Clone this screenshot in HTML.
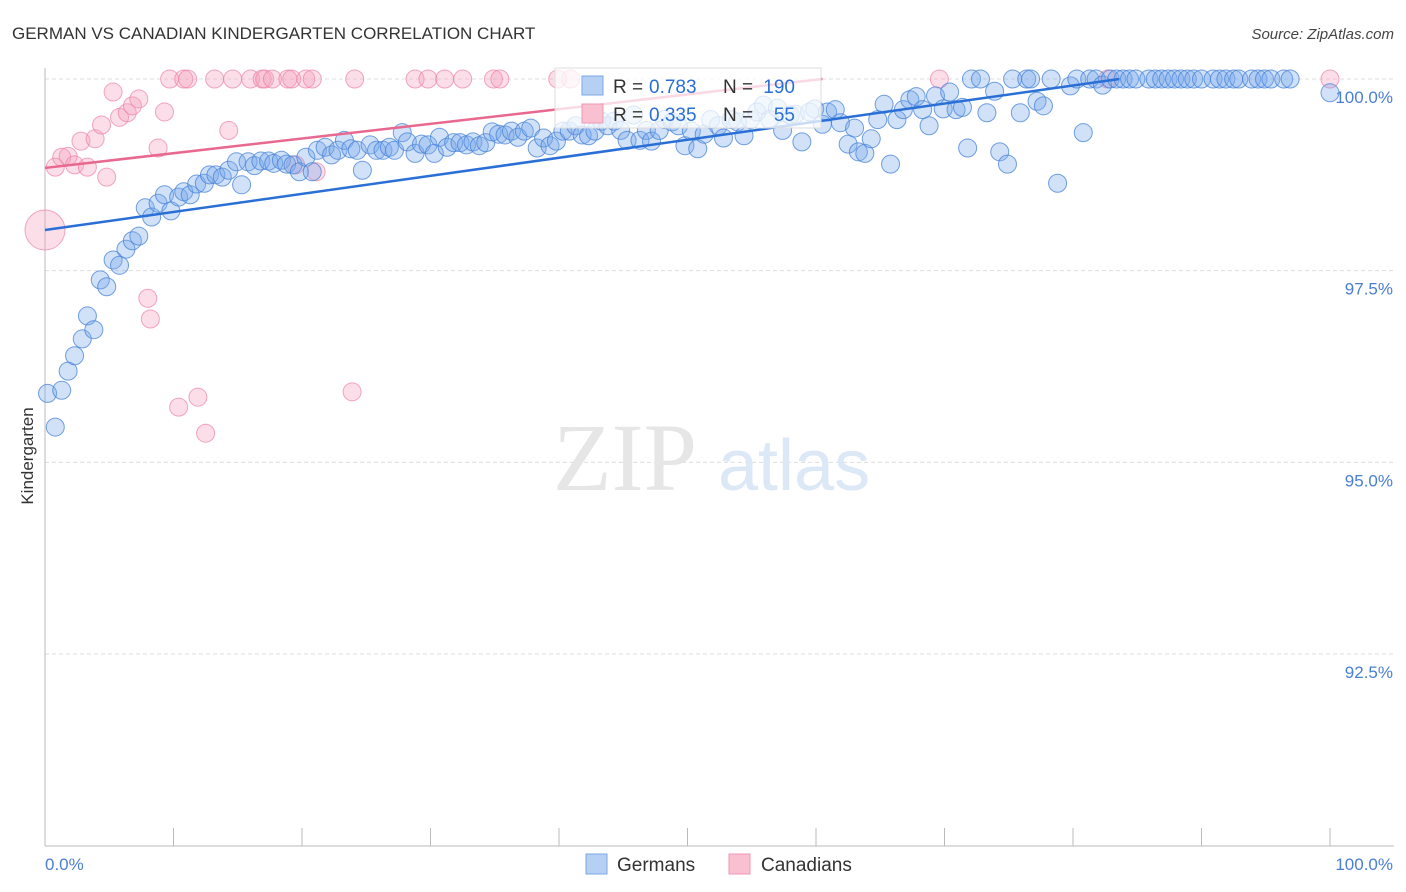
<!DOCTYPE html>
<html><head><meta charset="utf-8">
<style>
body{margin:0;background:#fff;font-family:"Liberation Sans",sans-serif;}
#wrap{position:relative;width:1406px;height:892px;overflow:hidden;}
</style></head>
<body>
<div id="wrap">
<svg id="chart" width="1406" height="892" xmlns="http://www.w3.org/2000/svg"></svg>
</div>
<script>
const blueX=[0.2,0.8,1.3,1.8,2.3,2.9,3.3,3.8,4.3,4.8,5.3,5.8,6.3,6.8,7.3,7.8,8.3,8.8,9.3,9.8,10.4,10.8,11.3,11.8,12.4,12.8,13.3,13.8,14.3,14.9,15.3,15.8,16.3,16.8,17.4,17.8,18.4,18.8,19.3,19.8,20.3,20.8,21.2,21.8,22.3,22.8,23.3,23.8,24.3,24.7,25.3,25.8,26.3,26.8,27.2,27.8,28.2,28.8,29.3,29.8,30.3,30.7,31.3,31.8,32.3,32.8,33.3,33.8,34.3,34.8,35.3,35.8,36.3,36.8,37.3,37.8,38.3,38.8,39.3,39.8,40.3,40.8,41.3,41.8,42.3,42.8,43.3,43.8,44.3,44.8,45.3,45.8,46.3,46.8,47.2,47.8,48.2,48.8,49.3,49.8,50.3,50.8,51.3,51.8,52.4,52.8,53.4,53.9,54.4,54.9,55.4,55.9,56.4,57.0,57.4,58.0,58.4,58.9,59.5,59.9,60.5,60.9,61.5,61.9,62.5,63.0,63.3,63.8,64.3,64.8,65.3,65.8,66.3,66.8,67.3,67.8,68.3,68.8,69.3,69.9,70.4,70.9,71.4,71.8,72.1,72.8,73.3,73.9,74.3,74.9,75.3,75.9,76.4,76.7,77.2,77.7,78.3,78.8,79.8,80.3,80.8,81.3,81.8,82.3,82.9,83.4,83.9,84.4,84.9,85.9,86.4,86.9,87.4,87.9,88.4,88.9,89.4,90.0,90.9,91.4,91.9,92.5,92.9,93.9,94.4,94.9,95.4,96.4,96.9,100];
const blueY=[95.90,95.46,95.94,96.19,96.39,96.61,96.91,96.73,97.38,97.29,97.64,97.57,97.78,97.89,97.95,98.32,98.20,98.38,98.49,98.28,98.46,98.53,98.49,98.63,98.64,98.75,98.75,98.72,98.81,98.92,98.62,98.92,98.87,98.93,98.93,98.90,98.94,98.89,98.88,98.79,98.98,98.79,99.07,99.11,99.01,99.07,99.20,99.09,99.07,98.81,99.14,99.07,99.07,99.11,99.07,99.30,99.18,99.03,99.15,99.14,99.03,99.24,99.11,99.17,99.17,99.14,99.18,99.13,99.17,99.31,99.28,99.27,99.32,99.24,99.32,99.36,99.10,99.23,99.13,99.19,99.32,99.32,99.39,99.27,99.26,99.32,99.45,99.39,99.45,99.33,99.20,99.53,99.20,99.33,99.19,99.33,99.47,99.44,99.39,99.13,99.32,99.09,99.28,99.47,99.39,99.23,99.47,99.44,99.26,99.47,99.57,99.66,99.47,99.62,99.33,99.53,99.54,99.18,99.57,99.61,99.41,99.57,99.60,99.43,99.15,99.36,99.05,99.03,99.22,99.47,99.67,98.89,99.47,99.60,99.73,99.77,99.60,99.39,99.78,99.61,99.83,99.60,99.63,99.10,100,100,99.56,99.84,99.05,98.89,100,99.56,100,100,99.71,99.65,100,98.64,99.91,100,99.30,100,100,99.92,100,100,100,100,100,100,100,100,100,100,100,100,100,100,100,100,100,100,100,100,100,100,100,100,100,99.82];
const pinkX=[0,0.8,1.3,1.8,2.3,2.8,3.3,3.9,4.4,4.8,5.3,5.8,6.4,6.8,7.3,8.0,8.2,8.8,9.3,9.7,10.4,10.8,11.1,11.9,12.5,13.2,14.3,14.6,16.0,16.9,17.1,17.7,18.9,19.2,19.5,20.3,20.8,21.1,23.9,24.1,28.8,29.8,31.1,32.5,34.9,35.4,39.9,40.9,69.6,82.7,100];
const pinkY=[98.03,98.85,98.98,98.99,98.88,99.19,98.85,99.22,99.40,98.72,99.83,99.50,99.56,99.65,99.74,97.14,96.87,99.10,99.57,100,95.72,100,100,95.85,95.38,100,99.33,100,100,100,100,100,100,100,98.88,100,100,98.79,95.92,100,100,100,100,100,100,100,100,100,100,100,100];
const yTicks=[100,97.5,95,92.5];
const yTickLabels=["100.0%","97.5%","95.0%","92.5%"];
const blueTrend=[[0,98.03],[83.6,100]];
const pinkTrend=[[0,98.84],[60.5,100]];

const NS="http://www.w3.org/2000/svg";
const svg=document.getElementById('chart');
const X=v=>45+v*12.85;
const Y=v=>79+(100-v)*76.67;
function mk(tag,attrs,parent){const e=document.createElementNS(NS,tag);for(const k in attrs)e.setAttribute(k,attrs[k]);(parent||svg).appendChild(e);return e;}
function txt(s,attrs){const e=mk('text',attrs);e.textContent=s;return e;}

// title
let t=txt("GERMAN VS CANADIAN KINDERGARTEN CORRELATION CHART",{x:12,y:39,'font-size':17,fill:'#333'});


t=txt("Source: ZipAtlas.com",{x:1394,y:39,'font-size':15,fill:'#444','font-style':'italic','text-anchor':'end'});



// gridlines & y labels
yTicks.forEach((v,i)=>{
  const g=mk('line',{x1:45,x2:1394,y1:Y(v),y2:Y(v),stroke:'#ddd','stroke-dasharray':'4,3'});
  
  
  const l=txt(yTickLabels[i],{x:1393,y:Y(v)+24,'font-size':17,fill:'#4a7fd4','text-anchor':'end'});
  
  
});
// axes
let a=mk('line',{x1:45,x2:45,y1:68,y2:846,stroke:'#bbb'});


a=mk('line',{x1:45,x2:1394,y1:846,y2:846,stroke:'#bbb'});


for(let i=0;i<=10;i++){
  const tk=mk('line',{x1:X(i*10),x2:X(i*10),y1:828,y2:846,stroke:'#bbb'});
  
  
}
t=txt("0.0%",{x:45,y:870,'font-size':17,fill:'#4a7fd4'});


t=txt("100.0%",{x:1393,y:870,'font-size':17,fill:'#4a7fd4','text-anchor':'end'});


t=txt("Kindergarten",{x:0,y:0,'font-size':17,fill:'#333','text-anchor':'middle',transform:'translate(33,456) rotate(-90)'});



// watermark
t=txt("ZIP",{x:553,y:490,'font-size':96,fill:'#e6e6e6','font-family':'Liberation Serif,serif'});


t=txt("atlas",{x:718,y:490,'font-size':72,fill:'#dce8f6'});



// points
pinkX.forEach((x,i)=>{
  const c=mk('circle',{cx:X(x),cy:Y(pinkY[i]),r:i===0?20:9,fill:'rgba(244,160,190,0.35)',stroke:'rgba(236,130,165,0.7)','stroke-width':1});
  
  
});
blueX.forEach((x,i)=>{
  const c=mk('circle',{cx:X(x),cy:Y(blueY[i]),r:9,fill:'rgba(120,170,235,0.35)',stroke:'rgba(70,130,215,0.75)','stroke-width':1});
  
  
});
// trends
let tl=mk('line',{x1:X(pinkTrend[0][0]),y1:Y(pinkTrend[0][1]),x2:X(pinkTrend[1][0]),y2:Y(pinkTrend[1][1]),stroke:'#e8688f','stroke-width':2.5});


tl=mk('line',{x1:X(blueTrend[0][0]),y1:Y(blueTrend[0][1]),x2:X(blueTrend[1][0]),y2:Y(blueTrend[1][1]),stroke:'#2a6fd6','stroke-width':2.5});



// legend box
const lg=mk('g',{});


mk('rect',{x:555,y:68,width:266,height:60,fill:'rgba(255,255,255,0.75)',stroke:'#ddd'},lg);
mk('rect',{x:582,y:76,width:21,height:19,fill:'#b5d0f3',stroke:'#7aa8e6'},lg);
mk('rect',{x:582,y:104,width:21,height:19,fill:'#f8c0d0',stroke:'#ee9ab5'},lg);
const rows=[["0.783","190",93],["0.335","55",121]];
rows.forEach(r=>{
  const a1=mk('text',{x:613,y:r[2],'font-size':19,fill:'#333'},lg);a1.textContent="R = ";
  const a2=mk('text',{x:649,y:r[2],'font-size':19,fill:'#2a6fd6'},lg);a2.textContent=r[0];
  const a3=mk('text',{x:723,y:r[2],'font-size':19,fill:'#333'},lg);a3.textContent="N = ";
  const a4=mk('text',{x:795,y:r[2],'font-size':19,fill:'#2a6fd6','text-anchor':'end'},lg);a4.textContent=r[1];
});

// bottom legend
const b1=mk('g',{});


mk('rect',{x:586,y:854,width:21,height:20,fill:'#b5d0f3',stroke:'#7aa8e6'},b1);
const bt1=mk('text',{x:617,y:871,'font-size':19,fill:'#333'},b1);bt1.textContent="Germans";
const b2=mk('g',{});


mk('rect',{x:729,y:854,width:21,height:20,fill:'#f8c0d0',stroke:'#ee9ab5'},b2);
const bt2=mk('text',{x:761,y:871,'font-size':19,fill:'#333'},b2);bt2.textContent="Canadians";
</script>
</body></html>
